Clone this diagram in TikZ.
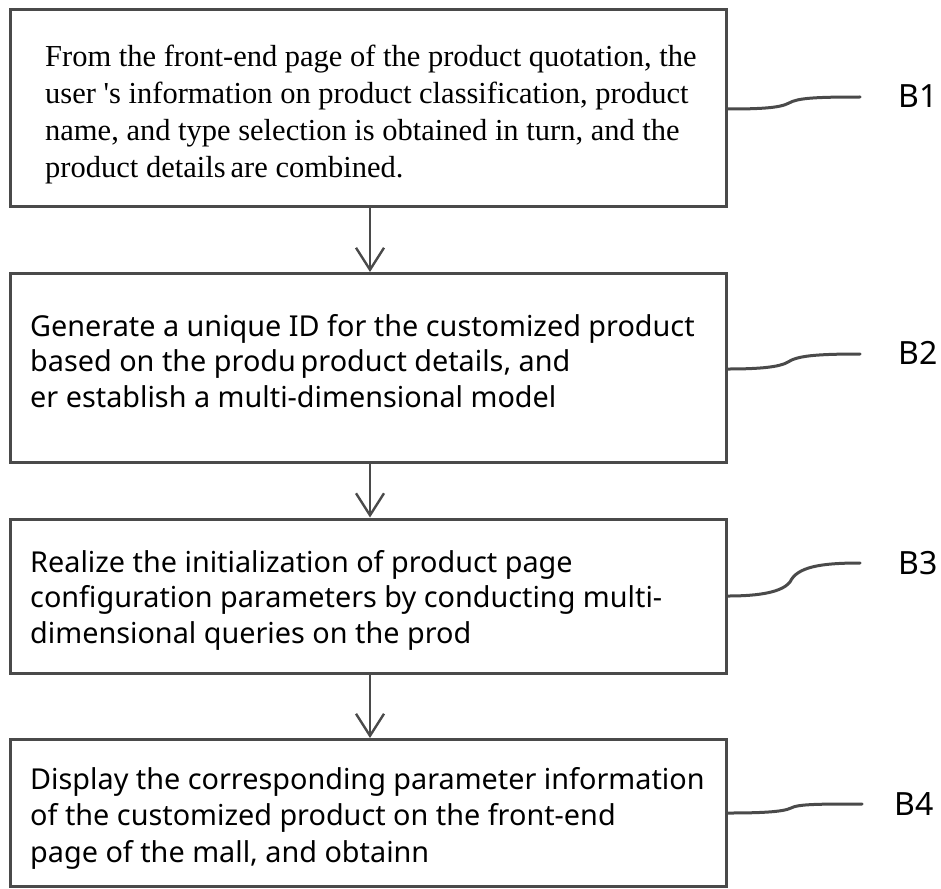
\documentclass[tikz,border=0pt]{standalone}
\usepackage{fontspec}
\setmainfont{Liberation Serif}
\newfontfamily\stepsans{Noto Sans}
\usetikzlibrary{arrows.meta}
\tikzset{
  stepbox/.style={draw=linegray, line width=3pt, rectangle, inner sep=0pt},
  steptext/.style={anchor=west, align=left, inner sep=0pt, text=black},
  flow/.style={draw=linegray, line width=2.4pt, -{Straight Barb[length=22pt,width=28pt,line width=2.4pt]}},
  tag/.style={draw=linegray, line width=3pt, line cap=round},
  taglabel/.style={anchor=west, inner sep=0pt, font=\stepsans\fontsize{32}{36}\selectfont}
}
\definecolor{linegray}{HTML}{4A4A4A}
\begin{document}
\begin{tikzpicture}[x=1pt,y=-1pt]
\useasboundingbox (0,0) rectangle (941,888);
\fill[white] (0,0) rectangle (941,888);

% step boxes
\node[stepbox, minimum width=716pt, minimum height=196pt] (b1) at (368.5,108) {};
\node[stepbox, minimum width=716pt, minimum height=189pt] (b2) at (368.5,368) {};
\node[stepbox, minimum width=716pt, minimum height=154pt] (b3) at (368.5,596) {};
\node[stepbox, minimum width=716pt, minimum height=147pt] (b4) at (368.5,813) {};

% box texts
\node[steptext, font=\fontsize{30.5}{37}\selectfont] (t1) at (45,115)
  {From the front-end page of the product quotation, the\\
   user \textquotesingle s information on product classification, product\\
   name, and type selection is obtained in turn, and the\\
   product details\,are combined.};
\node[steptext, font=\stepsans\fontsize{28.8}{35.5}\selectfont] (t2) at (30,361)
  {Generate a unique ID for the customized product\\
   based on the produ\,product details, and\\
   er establish a multi-dimensional model};
\node[steptext, font=\stepsans\fontsize{28.8}{35.5}\selectfont] (t3) at (30,600)
  {Realize the initialization of product page\\
   configuration parameters by conducting multi-\\
   dimensional queries on the prod};
\node[steptext, font=\stepsans\fontsize{28.8}{36.5}\selectfont] (t4) at (30,818)
  {Display the corresponding parameter information\\
   of the customized product on the front-end\\
   page of the mall, and obtainn};

% flow arrows
\draw[flow] (b1.south -| 370,0) -- (b2.north -| 370,0);
\draw[flow] (b2.south -| 370,0) -- (b3.north -| 370,0);
\draw[flow] (b3.south -| 370,0) -- (b4.north -| 370,0);

% reference tags
\coordinate (e1) at (860,97);
\coordinate (e2) at (860,354);
\coordinate (e3) at (860,563);
\coordinate (e4) at (862,804);
\node[taglabel] (l1) at (898,96) {B1};
\node[taglabel] (l2) at (898,353) {B2};
\node[taglabel] (l3) at (898,563) {B3};
\node[taglabel] (l4) at (894,804) {B4};

\draw[tag] (b1.east |- 0,109) .. controls (760,109) and (780,108) .. (789,103)
  .. controls (798,98) and (815,97) .. (e1);
\draw[tag] (b2.east |- 0,369) .. controls (760,369) and (780,367) .. (788,362)
  .. controls (797,356) and (815,354) .. (e2);
\draw[tag] (b3.east |- 0,596) .. controls (760,596) and (782,592) .. (790,582)
  .. controls (797,567) and (820,563) .. (e3);
\draw[tag] (b4.east |- 0,813) .. controls (760,813) and (783,812) .. (791,808)
  .. controls (798,804) and (820,804) .. (e4);
\end{tikzpicture}
\end{document}
